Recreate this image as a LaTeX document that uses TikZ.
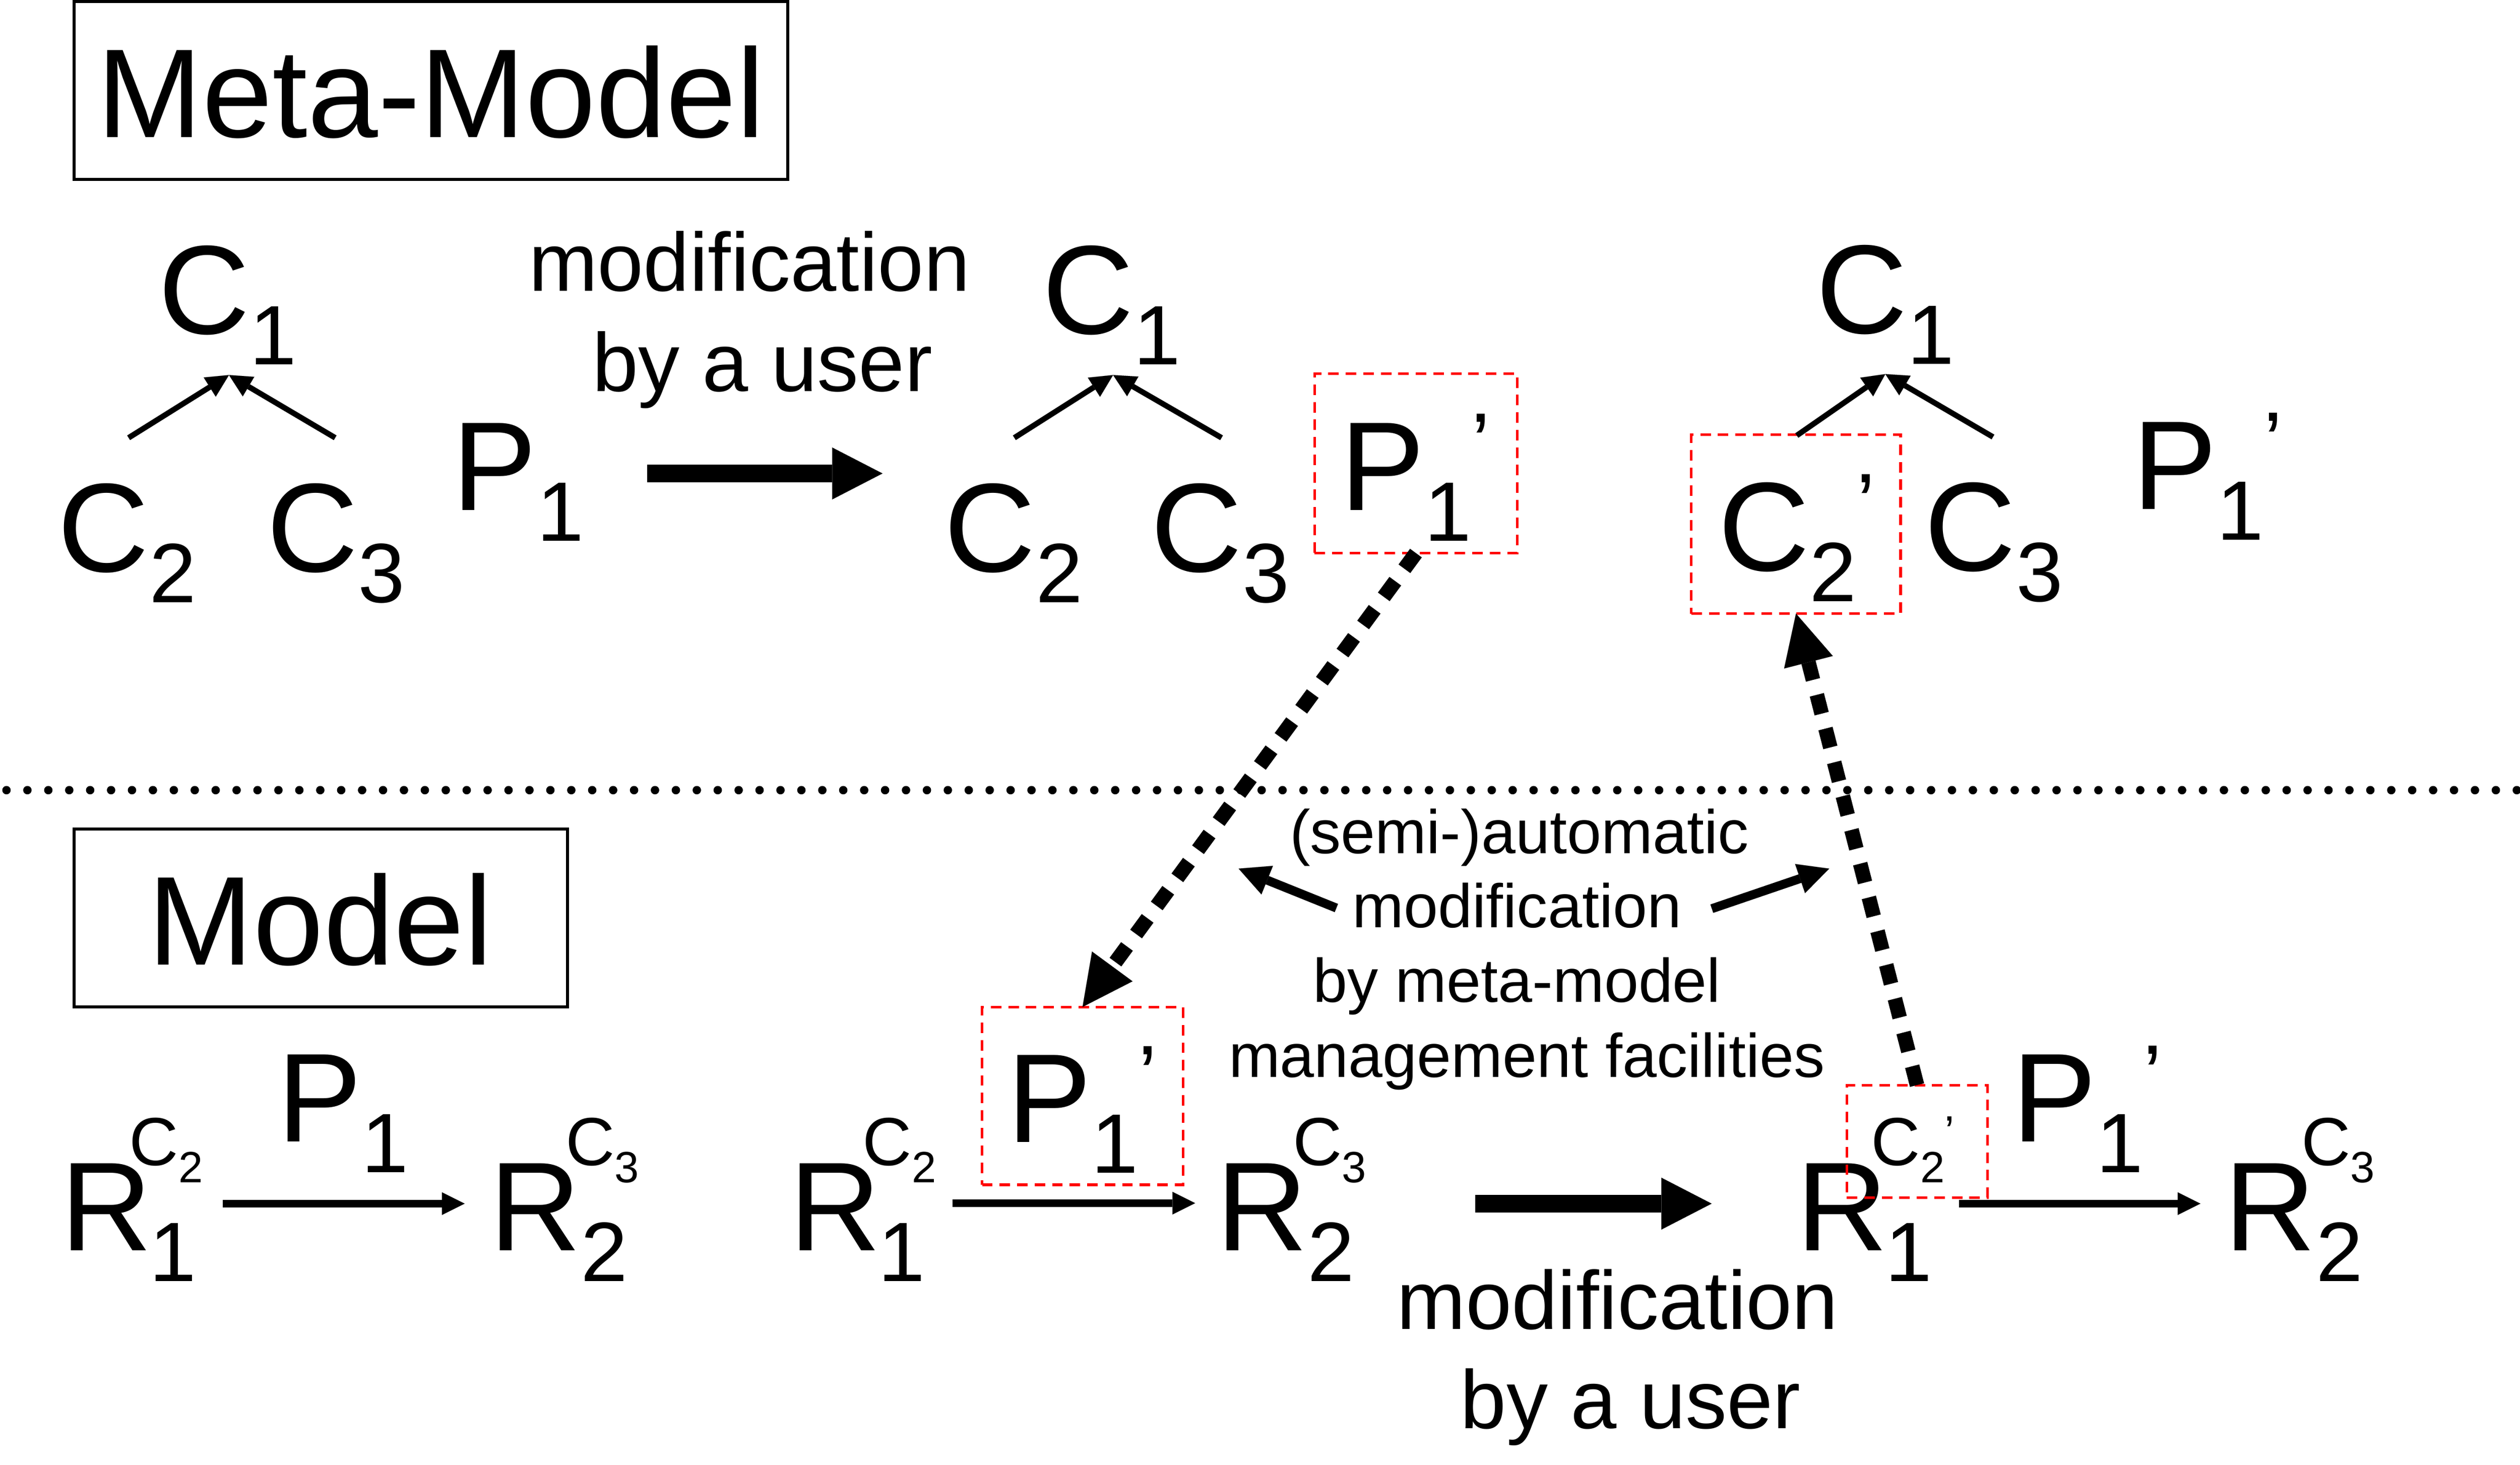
\documentclass[tikz,border=0pt]{standalone}
\usepackage{fontspec}
\setmainfont{Liberation Sans}
\usetikzlibrary{arrows.meta}
\newcommand\Lg{\fontsize{78}{78}\selectfont}
\newcommand\Sbx[1]{\raisebox{-19pt}{\fontsize{52}{52}\selectfont #1}}
\newcommand\Spx{\raisebox{23.5pt}{\fontsize{52}{52}\selectfont ’}}
\newcommand\SupC[1]{{\fontsize{42}{42}\selectfont C\raisebox{-10.5pt}{\fontsize{27}{27}\selectfont #1}}}
\begin{document}
\begin{tikzpicture}[x=1pt,y=-1pt,
  glyph/.style={inner sep=0pt, outer sep=0pt, anchor=base west, font=\Lg},
  supx/.style={inner sep=0pt, outer sep=0pt, anchor=base west},
  captext/.style={inner sep=0pt, outer sep=0pt, anchor=base, font=\fontsize{51}{51}\selectfont},
  notetext/.style={inner sep=0pt, outer sep=0pt, anchor=base, font=\fontsize{38}{38}\selectfont},
  titlebox/.style={draw, line width=1.8pt, inner sep=0pt, outer sep=0pt, anchor=north west},
  redbox/.style={draw=red, dash pattern=on 6.5pt off 4.3pt, line width=1.6pt, inner sep=0pt, outer sep=0pt},
  inherit/.style={line width=3.4pt, -{Triangle[length=14pt,width=14pt,line width=0.01pt]}},
  thinarr/.style={line width=4.5pt, -{Triangle[length=14pt,width=14pt,line width=0.01pt]}},
  fatarr/.style={line width=10.7pt, -{Triangle[length=31pt,width=32pt,line width=0.01pt]}},
  semiarr/.style={line width=5.5pt, -{Triangle[length=19pt,width=19pt,line width=0.01pt]}},
  derive/.style={line width=9pt, dash pattern=on 12pt off 9.5pt, -{Triangle[length=31pt,width=31pt,line width=0.01pt]}},
  sepline/.style={line width=5.2pt, line cap=round, dash pattern=on 0pt off 12.9pt}]
\useasboundingbox (0,0) rectangle (1554,903.4);

% titles
\node[titlebox, minimum width=440.1pt, minimum height=109.7pt] (metabox) at (45.6,0.9) {};
\node[inner sep=0pt, anchor=base, font=\Lg] (metatext) at (265.7,84.8) {Meta-Model};
\node[titlebox, minimum width=304.4pt, minimum height=109.7pt] (modelbox) at (45.6,511.3) {};
\node[inner sep=0pt, anchor=base, font=\Lg] (modeltext) at (197.5,595) {Model};

% separator
\coordinate (sepL) at (4,487.3);
\coordinate (sepR) at (1554,487.3);
\draw[sepline] (sepL) -- (sepR);

% ---- top: tree 1
\node[glyph] (C1a) at (97.7,206) {C\Sbx{1}};
\node[glyph] (C2a) at (35.7,352.5) {C\Sbx{2}};
\node[glyph] (C3a) at (164.6,352.5) {C\Sbx{3}};
\node[glyph] (P1a) at (279,314.6) {P\Sbx{1}};
\coordinate (ta) at (141.2,231.3);
\coordinate (la) at (79.3,270);
\coordinate (ra) at (206.7,270);
\draw[inherit] (la) -- (ta);
\draw[inherit] (ra) -- (ta);

\node[captext] (mod1) at (462.1,179.6) {modification};
\node[captext] (usr1) at (470.1,241.3) {by a user};
\coordinate (fa1) at (399,292);
\coordinate (fa2) at (544.2,292);
\draw[fatarr] (fa1) -- (fa2);

% ---- top: tree 2
\node[glyph] (C1b) at (642.9,206) {C\Sbx{1}};
\node[glyph] (C2b) at (582.4,352.5) {C\Sbx{2}};
\node[glyph] (C3b) at (709.8,352.5) {C\Sbx{3}};
\node[glyph] (P1b) at (826.5,314.6) {P\Sbx{1}\Spx};
\node[redbox, minimum width=124.9pt, minimum height=110.7pt] (tP1) at (873.15,285.75) {};
\coordinate (tb) at (686.4,231.3);
\coordinate (lb) at (625.5,270);
\coordinate (rb) at (753.3,270);
\draw[inherit] (lb) -- (tb);
\draw[inherit] (rb) -- (tb);

% ---- top: tree 3
\node[glyph] (C1c) at (1120,205.5) {C\Sbx{1}};
\node[glyph] (C2c) at (1059.6,352) {C\Sbx{2}\Spx};
\node[glyph] (C3c) at (1186.9,352) {C\Sbx{3}};
\node[glyph] (P1c) at (1315,314) {P\Sbx{1}\Spx};
\node[redbox, minimum width=129pt, minimum height=110.4pt] (tC2) at (1107.5,323.2) {};
\coordinate (tc) at (1162.6,230.7);
\coordinate (lc) at (1108,268.6);
\coordinate (rc) at (1229,269.5);
\draw[inherit] (lc) -- (tc);
\draw[inherit] (rc) -- (tc);

% ---- bottom: left
\node[glyph] (R1a) at (37.4,771.2) {R\kern-1.5pt\Sbx{1}};
\node[supx] (S1a) at (79.7,718.7) {\SupC{2}};
\node[glyph] (R2a) at (301.8,771.2) {R\Sbx{2}};
\node[supx] (S2a) at (348.8,718.7) {\SupC{3}};
\node[glyph] (Pa) at (171,704.2) {P\Sbx{1}};
\coordinate (aa1) at (137.3,742.3);
\coordinate (aa2) at (286.5,742.3);
\draw[thinarr] (aa1) -- (aa2);

% ---- bottom: middle
\node[glyph] (R1b) at (486.8,771.2) {R\kern-1.5pt\Sbx{1}};
\node[supx] (S1b) at (531.9,718.7) {\SupC{2}};
\node[glyph] (R2b) at (750,771.2) {R\Sbx{2}};
\node[supx] (S2b) at (797.2,718.7) {\SupC{3}};
\node[glyph] (Pb) at (621,704.5) {P\Sbx{1}\Spx};
\node[redbox, minimum width=123.9pt, minimum height=109.7pt] (mP1) at (667.55,675.85) {};
\coordinate (ab1) at (587.3,742);
\coordinate (ab2) at (737,742);
\draw[thinarr] (ab1) -- (ab2);

\coordinate (fb1) at (909.8,742.3);
\coordinate (fb2) at (1055.5,742.3);
\draw[fatarr] (fb1) -- (fb2);
\node[captext] (mod2) at (997.5,819.7) {modification};
\node[captext] (usr2) at (1005.5,880.9) {by a user};

% ---- bottom: right
\node[glyph] (R1c) at (1107.8,771.2) {R\kern-1.5pt\Sbx{1}};
\node[supx] (S1c) at (1153.9,718.7) {\SupC{2}\raisebox{11.6pt}{\fontsize{27}{27}\selectfont ’}};
\node[redbox, minimum width=86.7pt, minimum height=69.3pt] (rC2) at (1182.15,703.85) {};
\node[glyph] (R2c) at (1371.8,771.2) {R\Sbx{2}};
\node[supx] (S2c) at (1419.2,718.7) {\SupC{3}};
\node[glyph] (Pc) at (1240.8,704.2) {P\Sbx{1}\Spx};
\coordinate (ac1) at (1208,742.3);
\coordinate (ac2) at (1356.9,742.3);
\draw[thinarr] (ac1) -- (ac2);

% ---- semi-automatic note
\node[notetext] (n1) at (936.8,526.3) {(semi-)automatic};
\node[notetext] (n2) at (935.5,571.9) {modification};
\node[notetext] (n3) at (935.5,618.1) {by meta-model};
\node[notetext] (n4) at (941.5,664.3) {management facilities};
\coordinate (sl1) at (824.1,560);
\coordinate (sl2) at (763.8,535.7);
\coordinate (sr1) at (1055.6,560.4);
\coordinate (sr2) at (1128,535.7);
\draw[semiarr] (sl1) -- (sl2);
\draw[semiarr] (sr1) -- (sr2);

% ---- derivation arrows
\draw[derive] (tP1.south) -- (mP1.north);
\draw[derive] (rC2.north) -- (tC2.south);
\end{tikzpicture}
\end{document}
